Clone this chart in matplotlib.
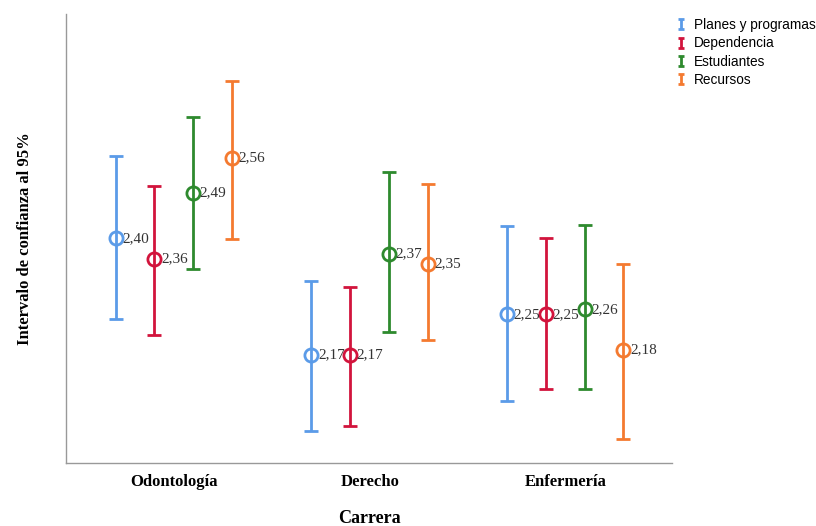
import numpy as np
import matplotlib
matplotlib.use("Agg")
import matplotlib.pyplot as plt
from matplotlib.path import Path
from matplotlib.lines import Line2D

carreras = ["Odontología", "Derecho", "Enfermería"]
series = ["Planes y programas", "Dependencia", "Estudiantes", "Recursos"]

# mean and 95% CI limits, one list per series (Odontología, Derecho, Enfermería)
media = {
    "Planes y programas": [2.40, 2.17, 2.25],
    "Dependencia":        [2.36, 2.17, 2.25],
    "Estudiantes":        [2.49, 2.37, 2.26],
    "Recursos":           [2.56, 2.35, 2.18],
}
ic_sup = {
    "Planes y programas": [2.563, 2.316, 2.425],
    "Dependencia":        [2.503, 2.304, 2.400],
    "Estudiantes":        [2.641, 2.532, 2.427],
    "Recursos":           [2.712, 2.507, 2.350],
}
ic_inf = {
    "Planes y programas": [2.241, 2.019, 2.078],
    "Dependencia":        [2.209, 2.029, 2.102],
    "Estudiantes":        [2.339, 2.214, 2.102],
    "Recursos":           [2.399, 2.200, 2.004],
}

colores = ["#5b9be8", "#d2143c", "#2e8a2e", "#f47a30"]
serif = ["Liberation Serif", "DejaVu Serif"]

fig = plt.figure(figsize=(8.16, 5.26), dpi=100)
ax = fig.add_axes([66/816, 63/526, 606/816, 449/526])

x = np.arange(len(carreras))
ancho = 0.198
handles = []
for i, s in enumerate(series):
    xs = x + (i - 1.5) * ancho
    m = np.array(media[s])
    yerr = [m - np.array(ic_inf[s]), np.array(ic_sup[s]) - m]
    ax.errorbar(xs, m, yerr=yerr, fmt="o", color=colores[i], ms=9.5,
                mfc="none", mew=2, elinewidth=2, capsize=5, capthick=2, zorder=3)
    for xi, mi in zip(xs, m):
        ax.text(xi + 0.033, mi, f"{mi:.2f}".replace(".", ","), fontsize=11,
                family=serif, color="#333333", va="center", ha="left", zorder=4)

ax.set_xlim(-0.551, 2.545)
ax.set_ylim(1.9557, 2.8442)
ax.set_xticks(x)
ax.set_xticklabels(carreras, family=serif, fontweight="bold", fontsize=12)
ax.set_yticks([])
ax.tick_params(axis="x", length=0, pad=8)
for sp in ["top", "right"]:
    ax.spines[sp].set_visible(False)
for sp in ["left", "bottom"]:
    ax.spines[sp].set_color("#999999")
    ax.spines[sp].set_linewidth(1)

ax.set_xlabel("Carrera", family=serif, fontweight="bold", fontsize=13, labelpad=14)
ax.set_ylabel("Intervalo de confianza al 95%", family=serif, fontweight="bold",
              fontsize=12, labelpad=24)

# legend icon shaped like an error bar "I"
icono = Path([(-0.6, -1), (0.6, -1), (0, -1), (0, 1), (-0.6, 1), (0.6, 1)],
             [Path.MOVETO, Path.LINETO, Path.MOVETO, Path.LINETO, Path.MOVETO, Path.LINETO])
for i, s in enumerate(series):
    handles.append(Line2D([], [], linestyle="none", marker=icono, ms=7, mew=2,
                          color=colores[i], label=s))
fig.legend(handles=handles, loc="upper left", bbox_to_anchor=(676/816, 1 - 18/526),
           frameon=False, prop={"family": ["Liberation Sans", "DejaVu Sans"], "size": 9.8},
           handlelength=0.8, handletextpad=0.5, labelspacing=0.32, borderaxespad=0,
           borderpad=0)

fig.savefig("out.png", dpi=100)
